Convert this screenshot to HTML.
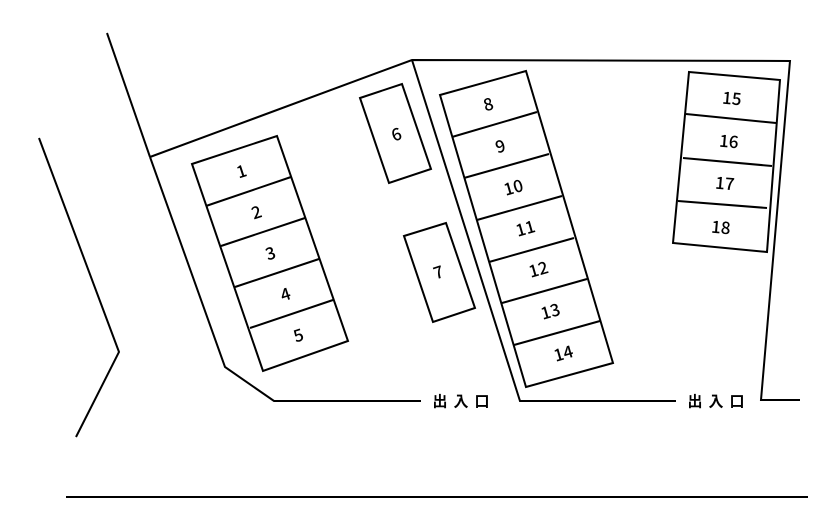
<!DOCTYPE html>
<html><head><meta charset="utf-8"><style>
html,body{margin:0;padding:0;background:#fff;width:828px;height:532px;overflow:hidden}
svg text{font-family:"Noto Sans CJK JP","Liberation Sans",sans-serif;font-size:17px;font-weight:500;fill:#000;text-anchor:middle;dominant-baseline:central}
</style></head><body>
<svg width="828" height="532" viewBox="0 0 828 532" xmlns="http://www.w3.org/2000/svg">
<g fill="none" stroke="#000" stroke-width="2">
<polyline points="39,138 119,352 76,437"/>
<line x1="66" y1="497" x2="808" y2="497"/>
<line x1="107" y1="33" x2="150" y2="157"/>
<polyline points="150,157 412,60 790,61 761,400 800,400"/>
<polyline points="150,157 225,367 274,401 421,401"/>
<polyline points="412,60 520,401 676,401"/>
<polygon points="192,164 277,136 348,341 263,371"/>
<line x1="206" y1="206" x2="291" y2="177"/>
<line x1="221" y1="246" x2="305" y2="218"/>
<line x1="235" y1="287" x2="319" y2="259"/>
<line x1="250" y1="328" x2="333" y2="300"/>
<polygon points="360,98 402,84 431,169 389,183"/>
<polygon points="404,236 446,223 475,308 433,322"/>
<polygon points="440,95 526,71 613,363 526,387"/>
<line x1="452" y1="137" x2="537" y2="112"/>
<line x1="464" y1="178" x2="549" y2="154"/>
<line x1="477" y1="220" x2="562" y2="196"/>
<line x1="489" y1="262" x2="574" y2="238"/>
<line x1="502" y1="303" x2="587" y2="279"/>
<line x1="514" y1="345" x2="600" y2="321"/>
<polygon points="689,72 780,80 767,252 673,243"/>
<line x1="686" y1="114" x2="776" y2="123"/>
<line x1="683" y1="158" x2="772" y2="166"/>
<line x1="678" y1="201" x2="767" y2="208"/>
</g>
<g>
<text transform="translate(241,170) rotate(-18)">1</text>
<text transform="translate(256,211) rotate(-18)">2</text>
<text transform="translate(270,252) rotate(-18)">3</text>
<text transform="translate(285,293) rotate(-18)">4</text>
<text transform="translate(298,334) rotate(-18)">5</text>
<text transform="translate(396,133) rotate(-18)">6</text>
<text transform="translate(438,271) rotate(-18)">7</text>
<text transform="translate(488,103) rotate(-16)">8</text>
<text transform="translate(500,145) rotate(-16)">9</text>
<text transform="translate(513,186) rotate(-16)">10</text>
<text transform="translate(525,227) rotate(-16)">11</text>
<text transform="translate(538,268) rotate(-16)">12</text>
<text transform="translate(550,310) rotate(-16)">13</text>
<text transform="translate(563,352) rotate(-16)">14</text>
<text transform="translate(732,97) rotate(5)">15</text>
<text transform="translate(729,140) rotate(5)">16</text>
<text transform="translate(725,182) rotate(5)">17</text>
<text transform="translate(721,226) rotate(5)">18</text>
<text x="464" y="401" style="font-size:15px;letter-spacing:6px;font-weight:bold">出入口</text>
<text x="719" y="401" style="font-size:15px;letter-spacing:6px;font-weight:bold">出入口</text>
</g>
</svg>
</body></html>
